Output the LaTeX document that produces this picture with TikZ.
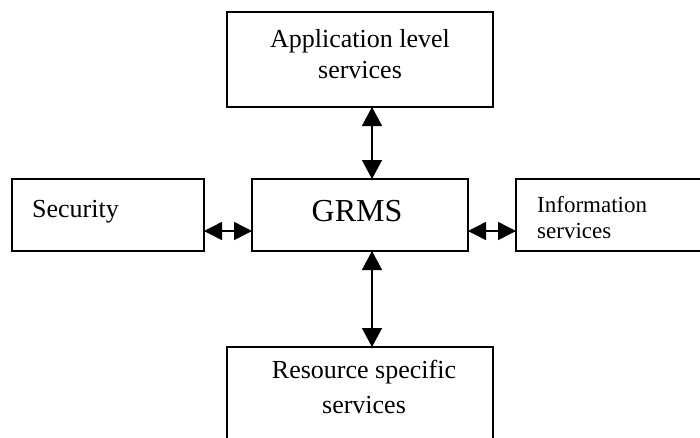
\documentclass[tikz,border=0pt]{standalone}
\usepackage{fontspec}
\setmainfont{Liberation Serif}
\usetikzlibrary{arrows.meta}
\begin{document}
\begin{tikzpicture}[x=1pt,y=-1pt,
  box/.style={draw,line width=1.6pt,inner sep=0pt,outer sep=0pt},
  lbl/.style={inner sep=0pt,font=\fontsize{26}{31}\selectfont},
  link/.style={line width=1.5pt,{Triangle[length=19pt,width=20pt]}-{Triangle[length=19pt,width=20pt]}},
  hlink/.style={line width=1.5pt,{Triangle[length=18pt,width=18pt]}-{Triangle[length=18pt,width=18pt]}}]
\useasboundingbox (0,0) rectangle (700,437);
\clip (0,0) rectangle (700,437);
% boxes
\node[box,minimum width=266pt,minimum height=95pt] (app) at (360,59.5) {};
\node[box,minimum width=192pt,minimum height=72pt] (sec) at (108,215) {};
\node[box,minimum width=216pt,minimum height=72pt] (grms) at (360,215) {};
\node[box,minimum width=220pt,minimum height=72pt] (info) at (626,215) {};
\node[box,minimum width=266pt,minimum height=110pt] (res) at (360,402) {};
% labels
\node[lbl,anchor=base] (appA) at (360,47) {Application level};
\node[lbl,anchor=base] (appB) at (360,78) {services};
\node[lbl,anchor=base west] (secT) at (32,217) {Security};
\node[inner sep=0pt,anchor=base,font=\fontsize{32}{38}\selectfont] (grmsT) at (357,221) {GRMS};
\node[inner sep=0pt,anchor=base west,font=\fontsize{23}{26}\selectfont] (infoA) at (537,212) {Information};
\node[inner sep=0pt,anchor=base west,font=\fontsize{23}{26}\selectfont] (infoB) at (537,238) {services};
\node[lbl,anchor=base] (resA) at (364,378) {Resource specific};
\node[lbl,anchor=base] (resB) at (364,413) {services};
% connectors
\draw[link] (app.south -| 372,0) -- (grms.north -| 372,0);
\draw[link] (grms.south -| 372,0) -- (res.north -| 372,0);
\draw[hlink] (sec.east |- 0,231) -- (grms.west |- 0,231);
\draw[hlink] (grms.east |- 0,231) -- (info.west |- 0,231);
\end{tikzpicture}
\end{document}
